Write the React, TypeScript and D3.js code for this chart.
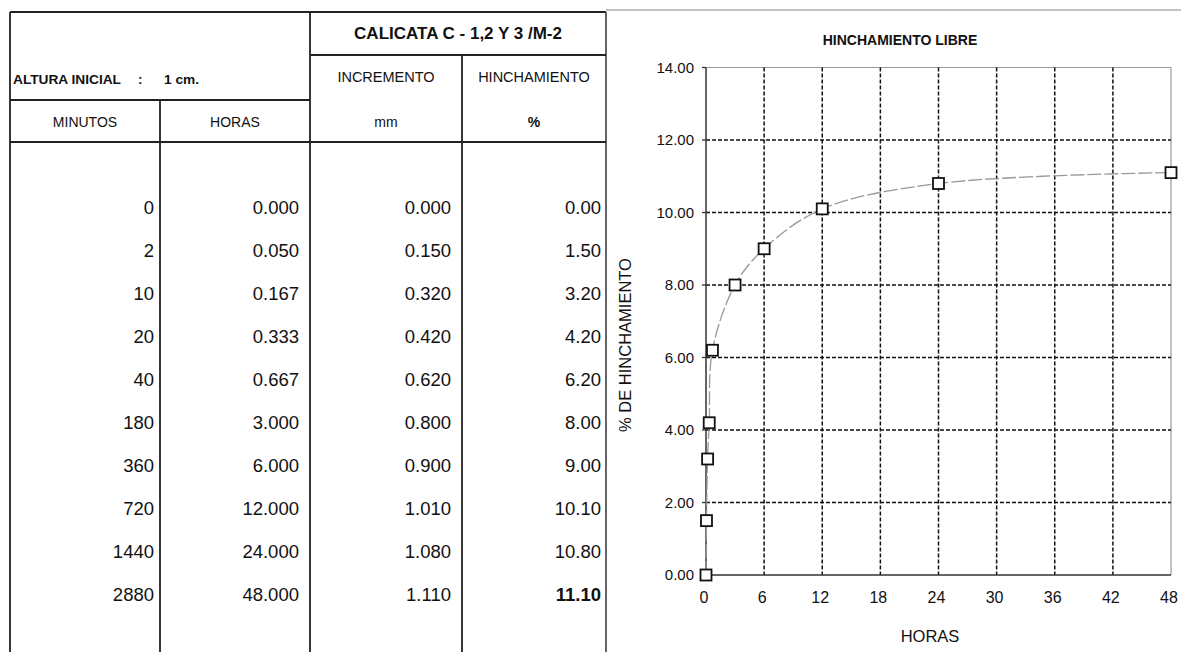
import React from "react";
import * as d3 from "d3";

const minutos = [0, 2, 10, 20, 40, 180, 360, 720, 1440, 2880];
const horas = [0.0, 0.05, 0.167, 0.333, 0.667, 3.0, 6.0, 12.0, 24.0, 48.0];
const incremento = [0.0, 0.15, 0.32, 0.42, 0.62, 0.8, 0.9, 1.01, 1.08, 1.11];
const hinchamiento = [0.0, 1.5, 3.2, 4.2, 6.2, 8.0, 9.0, 10.1, 10.8, 11.1];
const xTicks = [0, 6, 12, 18, 24, 30, 36, 42, 48];
const yTicks = [0, 2, 4, 6, 8, 10, 12, 14];

const FONT = "'Liberation Sans', Arial, Helvetica, sans-serif";
const W = 1181;
const H = 652;

export default function App() {
  // table geometry
  const tL = 10, c1 = 160, c2 = 310, c3 = 462, tR = 606;
  const tTop = 12, r1 = 55, r2 = 100, r3 = 142;
  const rowY = d3.scaleLinear().domain([0, minutos.length - 1]).range([208, 595]);

  // chart geometry
  const x = d3.scaleLinear().domain([0, 48]).range([706, 1171]);
  const y = d3.scaleLinear().domain([0, 14]).range([575, 67.5]);

  const pts: [number, number][] = horas.map((h, i) => [x(h), y(hinchamiento[i])]);
  const line = d3.line().curve(d3.curveCatmullRom.alpha(0.5))(pts) || "";

  const lineCol = "#222";
  const f1 = d3.format(".0f");
  const f3 = d3.format(".3f");
  const f2 = d3.format(".2f");

  return (
    <div style={{ position: "absolute", left: 0, top: 0 }}>
      <svg width={W} height={H} style={{ display: "block", background: "#fff" }} fontFamily={FONT}>
        <rect x={0} y={0} width={W} height={H} fill="#fff" />
        {/* ---------- TABLE ---------- */}
        <g stroke={lineCol} strokeWidth={1.8} fill="none">
          <line x1={tL} y1={tTop} x2={tR} y2={tTop} />
          <line x1={tL} y1={tTop} x2={tL} y2={H} />
          <line x1={tR} y1={tTop} x2={tR} y2={H} stroke="#555" />
          <line x1={c2} y1={tTop} x2={c2} y2={H} />
          <line x1={c3} y1={r1} x2={c3} y2={H} />
          <line x1={c1} y1={r2} x2={c1} y2={H} />
          <line x1={c2} y1={r1} x2={tR} y2={r1} />
          <line x1={tL} y1={r2} x2={c2} y2={r2} />
          <line x1={tL} y1={r3} x2={tR} y2={r3} />
        </g>
        <g fill="#111">
          <text x={(c2 + tR) / 2} y={33} dy="0.35em" textAnchor="middle" fontSize={17} fontWeight="bold">
            CALICATA C - 1,2 Y 3 /M-2
          </text>
          <text x={13} y={79} dy="0.35em" fontSize={13.7} fontWeight="bold">ALTURA INICIAL</text>
          <text x={138} y={79} dy="0.35em" fontSize={13.7} fontWeight="bold">:</text>
          <text x={164} y={79} dy="0.35em" fontSize={13.7} fontWeight="bold">1 cm.</text>
          <text x={(c2 + c3) / 2} y={77} dy="0.35em" textAnchor="middle" fontSize={14.5}>INCREMENTO</text>
          <text x={(c3 + tR) / 2} y={77} dy="0.35em" textAnchor="middle" fontSize={14.5}>HINCHAMIENTO</text>
          <text x={(tL + c1) / 2} y={122} dy="0.35em" textAnchor="middle" fontSize={14}>MINUTOS</text>
          <text x={(c1 + c2) / 2} y={122} dy="0.35em" textAnchor="middle" fontSize={14}>HORAS</text>
          <text x={(c2 + c3) / 2} y={122} dy="0.35em" textAnchor="middle" fontSize={14}>mm</text>
          <text x={(c3 + tR) / 2} y={122} dy="0.35em" textAnchor="middle" fontSize={14} fontWeight="bold">%</text>
        </g>
        <g fill="#111" fontSize={18.5}>
          {minutos.map((m, i) => {
            const last = i === minutos.length - 1;
            return (
              <g key={i}>
                <text x={c1 - 6} y={rowY(i)} dy="0.35em" textAnchor="end">{f1(m)}</text>
                <text x={c2 - 11} y={rowY(i)} dy="0.35em" textAnchor="end">{f3(horas[i])}</text>
                <text x={c3 - 11} y={rowY(i)} dy="0.35em" textAnchor="end">{f3(incremento[i])}</text>
                <text x={tR - 5} y={rowY(i)} dy="0.35em" textAnchor="end" fontWeight={last ? "bold" : "normal"}>
                  {f2(hinchamiento[i])}
                </text>
              </g>
            );
          })}
        </g>

        {/* ---------- CHART ---------- */}
        <line x1={tR} y1={10} x2={W} y2={10} stroke="#888" strokeWidth={1.2} />
        <text x={900} y={40} dy="0.35em" textAnchor="middle" fontSize={14} fontWeight="bold" fill="#111">
          HINCHAMIENTO LIBRE
        </text>
        {/* frame top/right */}
        <line x1={x(0)} y1={y(14)} x2={x(48)} y2={y(14)} stroke="#999" strokeWidth={1.2} />
        <line x1={x(48)} y1={y(14)} x2={x(48)} y2={y(0)} stroke="#999" strokeWidth={1.2} />
        {/* grid */}
        <g stroke="#111" strokeWidth={1.5} strokeDasharray="4,2">
          {yTicks.filter((t) => t > 0 && t < 14).map((t) => (
            <line key={"gy" + t} x1={x(0)} y1={y(t)} x2={x(48)} y2={y(t)} />
          ))}
          {xTicks.filter((t) => t > 0 && t < 48).map((t) => (
            <line key={"gx" + t} x1={x(t)} y1={y(14)} x2={x(t)} y2={y(0)} />
          ))}
        </g>
        {/* axes */}
        <line x1={x(0)} y1={y(14)} x2={x(0)} y2={y(0)} stroke="#333" strokeWidth={1.5} />
        <line x1={x(0)} y1={y(0)} x2={x(48)} y2={y(0)} stroke="#333" strokeWidth={1.6} />
        <g stroke="#333" strokeWidth={1.3}>
          {yTicks.map((t) => (
            <line key={"ty" + t} x1={x(0) - 4} y1={y(t)} x2={x(0)} y2={y(t)} />
          ))}
        </g>
        <g fill="#111">
          {yTicks.map((t) => (
            <text key={"ly" + t} x={x(0) - 12} y={y(t)} dy="0.35em" textAnchor="end" fontSize={15}>{f2(t)}</text>
          ))}
          {xTicks.map((t) => (
            <text key={"lx" + t} x={x(t) - 2} y={597} dy="0.35em" textAnchor="middle" fontSize={16}>{f1(t)}</text>
          ))}
        </g>
        <text x={930} y={636} dy="0.35em" textAnchor="middle" fontSize={16.5} fill="#111">HORAS</text>
        <text
          transform={`translate(625,345) rotate(-90)`}
          dy="0.35em"
          textAnchor="middle"
          fontSize={16.5}
          fill="#111"
        >
          % DE HINCHAMIENTO
        </text>
        {/* curve */}
        <path d={line} fill="none" stroke="#999" strokeWidth={1.3} strokeDasharray="14,3" />
        {/* markers */}
        <g fill="#fff" stroke="#111" strokeWidth={1.8}>
          {pts.map(([px, py], i) => (
            <rect key={"m" + i} x={px - 5.5} y={py - 5.5} width={11} height={11} />
          ))}
        </g>
      </svg>
    </div>
  );
}
